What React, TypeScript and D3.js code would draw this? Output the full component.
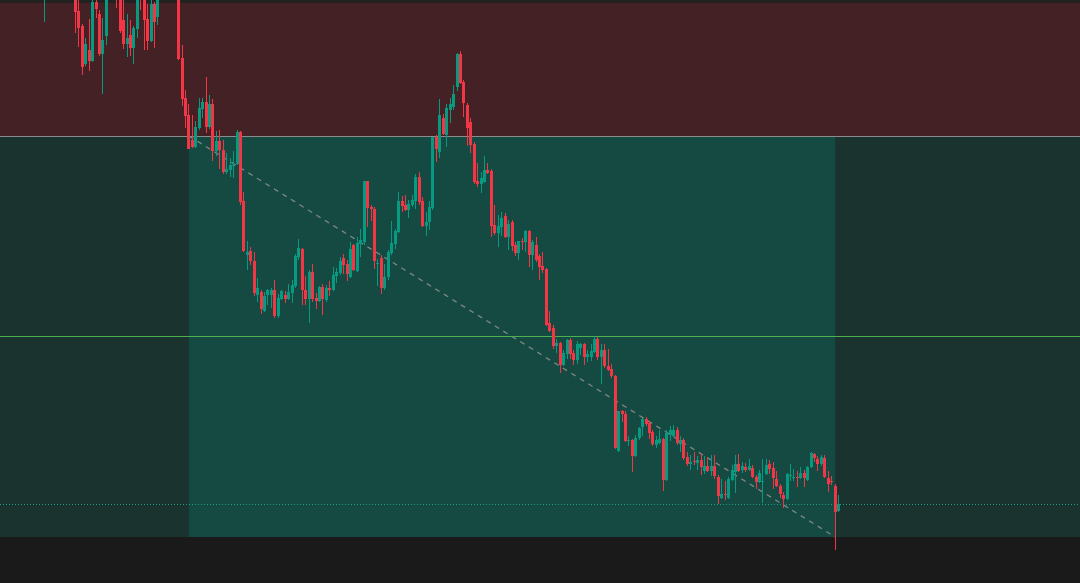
import React from "react";
import * as d3 from "d3";

// Price units (arbitrary scale). null = candle off-screen.
const opens: (number | null)[] = [
  603, null, null, null, null, null, null, null, null,
  603, 589, 574, 536, 550, 539, 598, 586, 546, 564, null, null, 615, 603, 580, 556, 565, 552, 571, 615, 603, 581, 559, 596, 583,
  null, null, null, null, null,
  603, 542, 502, 485, 460, 453, 472, 491, 498, 473, 496, 449, 459, 450, 428, 430, 434, 436, 468, 399,
  345, 349, 339, 305, 308, 289, 305, 305, 310, 284, 301, 305, 301, 307, 314, 343, 351, 310, 301, 328,
  302, 299, 313, 300, 312, 310, 324, 327, 342, 336, 323, 355, 329, 356, 358, 419, 393, 391, 336, 342,
  312, 323, 347, 356, 368, 399, 395, 390, 395, 399, 423, 399, 374, 378, 392, 463, 448, 482, 465, 490,
  493, 513, 546, 518, 495, 478, 456, 419, 416, 418, 430, 429, 375, 367, 373, 384, 363, 378, 355, 347,
  359, 358, 369, 345, 355, 344, 334, 331, 277, 272, 254, 257, 235, 246, 260, 247, 240, 252, 256, 243,
  243, 248, 261, 243, 250, 234, 231, 224, 149, 189, 186, 159, 160, 144, 162, 173, 181, 177, 168, 155,
  157, 161, 120, 165, 164, 170, 156, 160, 143, 136, 139, 137, 140, 129, 134, 129, 134, 123, 102, 106,
  102, 120, 128, 136, 130, 133, 130, 132, 123, 118, 118, 126, 136, 132, 121, 114, 105, 101, 124, 122,
  123, 122, 127, 120, 133, 146, 141, 136, 142, 122, 119, 114, 89,
];
const highs: (number | null)[] = [
  620, null, null, null, null, null, null, null, null,
  605, 600, 576, 562, 581, 602, 602, 590, 582, 605, null, null, 620, 605, 600, 586, 580, 574, 605, 620, 605, 596, 600, 598, 605,
  null, null, null, null, null,
  605, 555, 510, 496, 485, 479, 502, 502, 523, 505, 501, 469, 470, 460, 447, 442, 449, 470, 469, 408,
  359, 353, 348, 322, 310, 308, 311, 312, 320, 306, 310, 309, 316, 320, 346, 361, 352, 324, 330, 336,
  307, 314, 316, 315, 319, 333, 332, 343, 346, 340, 358, 356, 363, 371, 419, 419, 395, 393, 341, 345,
  336, 350, 379, 371, 408, 404, 405, 400, 405, 426, 428, 403, 388, 399, 463, 465, 501, 486, 496, 502,
  515, 547, 549, 520, 497, 482, 458, 437, 428, 444, 437, 431, 395, 385, 388, 387, 380, 380, 358, 359,
  362, 370, 370, 360, 363, 346, 348, 332, 289, 275, 261, 258, 250, 261, 262, 250, 259, 257, 257, 250,
  256, 264, 263, 256, 256, 251, 236, 225, 189, 190, 189, 164, 161, 165, 173, 182, 183, 179, 170, 164,
  170, 162, 170, 174, 175, 173, 164, 162, 148, 145, 148, 144, 146, 144, 143, 145, 145, 125, 121, 119,
  123, 135, 145, 146, 138, 137, 141, 135, 125, 130, 141, 141, 140, 138, 129, 116, 108, 127, 136, 131,
  129, 133, 130, 134, 148, 147, 144, 145, 145, 129, 124, 116, 105,
];
const lows: (number | null)[] = [
  578, null, null, null, null, null, null, null, null,
  567, 553, 525, 534, 529, 538, 582, 544, 506, 555, null, null, 592, 567, 551, 543, 544, 536, 562, 590, 550, 550, 558, 552, 575,
  null, null, null, null, null,
  540, 494, 472, 451, 452, 452, 470, 482, 467, 471, 439, 444, 431, 426, 426, 423, 422, 435, 395, 348,
  330, 335, 304, 298, 286, 288, 295, 292, 282, 282, 300, 297, 300, 297, 312, 340, 295, 295, 277, 298,
  291, 298, 285, 298, 304, 309, 317, 325, 326, 319, 322, 329, 328, 343, 355, 373, 379, 331, 314, 306,
  310, 320, 345, 351, 367, 388, 389, 382, 393, 391, 395, 373, 364, 370, 390, 438, 442, 465, 453, 477,
  490, 509, 516, 483, 454, 447, 416, 413, 407, 417, 426, 363, 365, 353, 364, 362, 350, 349, 344, 340,
  350, 348, 333, 330, 338, 320, 327, 274, 268, 251, 247, 227, 234, 241, 241, 235, 236, 245, 235, 238,
  239, 247, 240, 216, 232, 229, 222, 151, 148, 178, 158, 154, 128, 143, 160, 164, 174, 161, 154, 152,
  156, 109, 119, 159, 163, 155, 148, 140, 134, 130, 135, 130, 125, 126, 128, 124, 121, 96, 101, 100,
  101, 119, 107, 128, 127, 128, 129, 122, 111, 117, 97, 125, 126, 111, 113, 102, 92, 100, 119, 119,
  113, 121, 113, 119, 132, 138, 129, 134, 122, 108, 115, 50, 88,
];
const closes: (number | null)[] = [
  615, null, null, null, null, null, null, null, null,
  588, 572, 533, 556, 539, 598, 591, 546, 560, 602, null, null, 605, 569, 556, 562, 552, 572, 603, 604, 580, 559, 596, 578, 603,
  null, null, null, null, null,
  541, 501, 484, 451, 453, 473, 492, 498, 473, 496, 449, 459, 450, 428, 431, 435, 435, 468, 398, 349,
  348, 339, 307, 312, 291, 304, 310, 310, 284, 302, 309, 301, 308, 315, 344, 352, 310, 301, 328, 301,
  299, 313, 301, 312, 310, 325, 328, 339, 335, 326, 351, 330, 357, 360, 419, 392, 391, 339, 337, 312,
  323, 348, 357, 369, 399, 394, 390, 396, 400, 423, 398, 374, 378, 393, 463, 451, 485, 466, 492, 496,
  506, 546, 517, 497, 472, 455, 418, 416, 422, 430, 427, 374, 367, 374, 382, 363, 376, 354, 347, 359,
  358, 369, 345, 358, 340, 333, 330, 275, 269, 254, 257, 235, 247, 260, 246, 240, 256, 256, 243, 246,
  249, 261, 243, 250, 234, 230, 224, 152, 189, 186, 159, 160, 144, 162, 172, 181, 176, 167, 156, 160,
  161, 120, 167, 170, 170, 157, 160, 142, 136, 138, 138, 140, 133, 134, 129, 134, 124, 104, 106, 105,
  121, 130, 136, 129, 134, 130, 134, 123, 118, 127, 119, 135, 131, 122, 114, 106, 101, 126, 125, 123,
  122, 127, 122, 133, 147, 142, 136, 143, 123, 116, 118, 88, 96,
];

// Position tool levels (price units)
const zoneTop = 597;
const entryPrice = 464;
const targetPrice = 63;
const midLevel = 264;
const dottedLevel = 96;
const boxStartIndex = 42;
const boxEndIndex = 230;

const W = 1080;
const H = 583;
const UP = "#089981";
const DOWN = "#f23645";

export default function App() {
  const n = opens.length;
  const x = d3.scaleLinear().domain([0, n - 1]).range([44.56, 44.56 + (n - 1) * 3.4375]);
  const y = d3.scaleLinear().domain([0, 600]).range([600, 0]);
  const bodyW = 3;

  const yEntry = y(entryPrice);
  const yTarget = y(targetPrice);
  const xBox0 = x(boxStartIndex);
  const xBox1 = x(boxEndIndex);

  const candles = [];
  for (let i = 0; i < n; i++) {
    const o = opens[i], h = highs[i], l = lows[i], c = closes[i];
    if (o == null || h == null || l == null || c == null) continue;
    const up = c >= o;
    const col = up ? UP : DOWN;
    const cx = x(i);
    const top = y(Math.max(o, c));
    const bot = y(Math.min(o, c));
    const left = Math.round(cx - bodyW / 2);
    candles.push(
      <g key={i}>
        <rect x={left + 1} y={y(h)} width={1} height={Math.max(1, y(l) - y(h))} fill={col} shapeRendering="crispEdges" />
        <rect x={left} y={top} width={bodyW} height={Math.max(1, bot - top)} fill={col} shapeRendering="crispEdges" />
      </g>
    );
  }

  return (
    <svg
      width={W}
      height={H}
      style={{ position: "fixed", left: 0, top: 0, display: "block" }}
    >
      <rect x={0} y={0} width={W} height={H} fill="#1a1a1a" />
      <rect x={0} y={0} width={W} height={3} fill="#222222" />
      {/* stop zone */}
      <rect x={0} y={y(zoneTop)} width={W} height={yEntry - y(zoneTop)} fill="#432124" />
      {/* profit zone (full width, dim) */}
      <rect x={0} y={yEntry} width={W} height={yTarget - yEntry} fill="#1b332f" />
      {/* profit zone (position box) */}
      <rect x={xBox0} y={yEntry} width={xBox1 - xBox0} height={yTarget - yEntry} fill="#154a42" />
      {/* diagonal */}
      <line
        x1={xBox0}
        y1={yEntry}
        x2={xBox1}
        y2={yTarget}
        stroke="#7f8783"
        strokeWidth={1.3}
        strokeDasharray="5 5"
      />
      {/* levels */}
      <line x1={0} x2={W} y1={yEntry + 0.5} y2={yEntry + 0.5} stroke="#8c8c8c" strokeWidth={1} />
      <line x1={0} x2={W} y1={y(midLevel) + 0.5} y2={y(midLevel) + 0.5} stroke="#4caf50" strokeWidth={1} />
      <line
        x1={0}
        x2={W}
        y1={y(dottedLevel) + 0.5}
        y2={y(dottedLevel) + 0.5}
        stroke="#1e9e88"
        strokeWidth={1}
        strokeDasharray="1 2"
      />
      {candles}
    </svg>
  );
}
